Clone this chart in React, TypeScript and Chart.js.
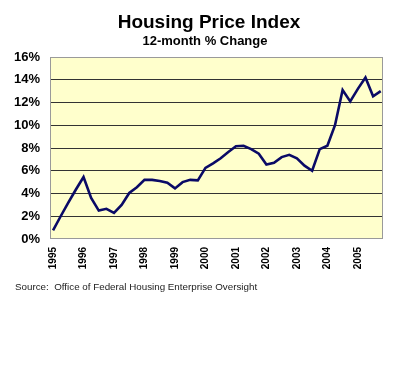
import React, { useEffect, useRef } from 'react';
import { Chart, registerables } from 'chart.js';

Chart.register(...registerables);

const titleText = 'Housing Price Index';
const subtitleText = '12-month % Change';
const sourceText = 'Source:  Office of Federal Housing Enterprise Oversight';

const years = ['1995', '1996', '1997', '1998', '1999', '2000', '2001', '2002', '2003', '2004', '2005'];

// 12-month % change, quarterly from 1995 Q1 to 2005 Q4
const quarterlyChange = [
  0.75, 2.0, 3.2, 4.35,
  5.45, 3.6, 2.5, 2.65,
  2.3, 3.0, 4.05, 4.55,
  5.2, 5.2, 5.1, 4.95,
  4.45, 5.0, 5.2, 5.15,
  6.25, 6.65, 7.1, 7.65,
  8.15, 8.2, 7.9, 7.5,
  6.55, 6.7, 7.2, 7.4,
  7.1, 6.45, 6.0, 7.9,
  8.2, 10.0, 13.1, 12.1,
  13.2, 14.2, 12.55, 13.0,
];

const yTicks = [0, 2, 4, 6, 8, 10, 12, 14, 16];

const PLOT = { left: 50, top: 57, right: 383, bottom: 239 };
const W = 400;
const H = 370;

export default function App() {
  const ref = useRef<HTMLCanvasElement | null>(null);

  useEffect(() => {
    if (!ref.current) return;

    const framePlugin = {
      id: 'framePlugin',
      beforeDraw(chart: any) {
        const { ctx, chartArea } = chart;
        ctx.save();
        ctx.fillStyle = '#FFFFFF';
        ctx.fillRect(0, 0, W, H);
        ctx.fillStyle = '#FFFFCC';
        ctx.fillRect(chartArea.left, chartArea.top, chartArea.right - chartArea.left, chartArea.bottom - chartArea.top);
        ctx.restore();
      },
      beforeDatasetsDraw(chart: any) {
        const { ctx, chartArea } = chart;
        ctx.save();
        ctx.strokeStyle = '#9a9a9a';
        ctx.lineWidth = 1;
        ctx.strokeRect(chartArea.left + 0.5, chartArea.top + 0.5, chartArea.right - chartArea.left - 1, chartArea.bottom - chartArea.top - 1);
        ctx.restore();
      },
      afterDraw(chart: any) {
        const { ctx } = chart;
        ctx.save();
        ctx.fillStyle = '#000000';
        ctx.textAlign = 'center';
        ctx.textBaseline = 'alphabetic';
        ctx.font = 'bold 19px Arial, "Liberation Sans", sans-serif';
        ctx.fillText(titleText, 209, 28);
        ctx.font = 'bold 13px Arial, "Liberation Sans", sans-serif';
        ctx.fillText(subtitleText, 205, 45);
        ctx.restore();
      },
    };

    const chart = new Chart(ref.current, {
      type: 'line',
      data: {
        datasets: [
          {
            data: quarterlyChange.map((v, i) => ({ x: i, y: v })),
            borderColor: '#0a0a66',
            borderWidth: 2.6,
            pointRadius: 0,
            tension: 0,
            fill: false,
          },
        ],
      },
      options: {
        responsive: false,
        animation: false,
        devicePixelRatio: 1,
        layout: {
          padding: { left: 0, top: PLOT.top, right: W - PLOT.right, bottom: 0 },
        },
        plugins: {
          legend: { display: false },
          title: { display: false },
          tooltip: { enabled: false },
        },
        scales: {
          x: {
            type: 'linear',
            min: -0.4,
            max: 43.3,
            afterBuildTicks: (scale: any) => {
              scale.ticks = years.map((_, i) => ({ value: i * 4 }));
            },
            afterFit: (scale: any) => {
              scale.height = H - PLOT.bottom;
            },
            grid: { display: false, drawTicks: false },
            border: { display: false },
            ticks: {
              autoSkip: false,
              maxRotation: 90,
              minRotation: 90,
              padding: 8,
              color: '#000000',
              font: { family: 'Arial, "Liberation Sans", sans-serif', size: 10, weight: 'bold' },
              callback: (v: any) => years[Math.round(Number(v) / 4)] ?? '',
            },
          },
          y: {
            min: 0,
            max: 16,
            afterBuildTicks: (scale: any) => {
              scale.ticks = yTicks.map((v) => ({ value: v }));
            },
            afterFit: (scale: any) => {
              scale.width = PLOT.left;
            },
            grid: {
              drawTicks: false,
              color: (c: any) => (c.tick && (c.tick.value === 0 || c.tick.value === 16) ? 'rgba(0,0,0,0)' : '#333333'),
              lineWidth: 1,
            },
            border: { display: false },
            ticks: {
              padding: 10,
              color: '#000000',
              font: { family: 'Arial, "Liberation Sans", sans-serif', size: 13, weight: 'bold' },
              callback: (v: any) => v + '%',
            },
          },
        },
      },
      plugins: [framePlugin],
    });

    return () => chart.destroy();
  }, []);

  return (
    <div style={{ position: 'absolute', left: 0, top: 0, width: W, height: H, background: '#fff' }}>
      <canvas ref={ref} width={W} height={H} style={{ display: 'block' }} />
      <div
        style={{
          position: 'absolute',
          left: 15,
          top: 281,
          fontFamily: 'Arial, "Liberation Sans", sans-serif',
          fontSize: 9.8,
          color: '#222',
          whiteSpace: 'pre',
        }}
      >
        {sourceText}
      </div>
    </div>
  );
}
